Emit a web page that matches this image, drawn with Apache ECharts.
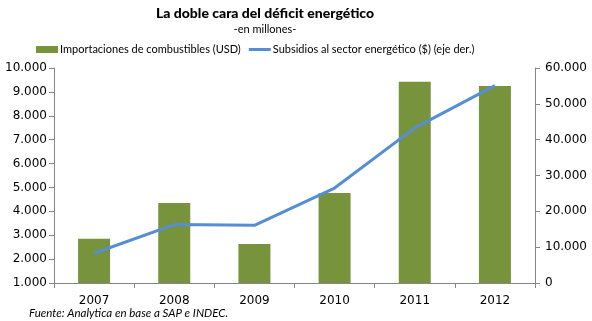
<!DOCTYPE html>
<html><head><meta charset="utf-8">
<script src="https://cdn.jsdelivr.net/npm/echarts@6/dist/echarts.min.js"></script>
<style>html,body{margin:0;padding:0;background:#fff}#c{width:592px;height:321px}</style>
</head><body><div id="c"></div>
<script>
var categories = ['2007','2008','2009','2010','2011','2012'];
var importaciones = [2850, 4350, 2630, 4770, 9420, 9250];
var subsidios = [8300, 16300, 16100, 26500, 43300, 55100];
var leftTicks = {min:1000, max:10000, interval:1000};
var rightTicks = {min:0, max:60000, interval:10000};

function fmt(v){ return String(v).replace(/\B(?=(\d{3})+(?!\d))/g,'.'); }
var chart = echarts.init(document.getElementById('c'));
var axisCol = '#868686';
var lf = 'Lato, "Open Sans", sans-serif';
var tf = '"DejaVu Sans", sans-serif';
chart.setOption({
  animation:false,
  title:[
    {text:'La doble cara del déficit energético', left:260, textAlign:'center', top:1,
     textStyle:{fontFamily:lf, fontWeight:900, fontSize:14, color:'#000'}},
    {text:'-en millones-', left:260, textAlign:'center', top:19,
     textStyle:{fontFamily:lf, fontWeight:'normal', fontSize:11, color:'#000'}}
  ],
  legend:{top:39, left:31, itemGap:8, itemWidth:22, itemHeight:7,
    textStyle:{fontFamily:lf, fontSize:11, color:'#000', padding:[0,0,0,-3]},
    data:[{name:'Importaciones de combustibles (USD)', icon:'rect'},
          {name:'Subsidios al sector energético ($) (eje der.)', icon:'path://M0,0 M0,2h22v3h-22z M22,7'}]},
  grid:{left:54, right:57, top:68, bottom:38},
  xAxis:{type:'category', data:categories,
    axisLine:{lineStyle:{color:axisCol}},
    axisTick:{show:true, alignWithLabel:false, length:5, lineStyle:{color:axisCol}},
    axisLabel:{color:'#000', fontFamily:tf, fontSize:12, margin:12}},
  yAxis:[
    {type:'value', min:leftTicks.min, max:leftTicks.max, interval:leftTicks.interval, position:'left',
     axisLine:{show:true, lineStyle:{color:axisCol}},
     axisTick:{show:true, length:5, lineStyle:{color:axisCol}},
     splitLine:{show:false},
     axisLabel:{color:'#000', fontFamily:tf, fontSize:12, margin:7, formatter:fmt}},
    {type:'value', min:rightTicks.min, max:rightTicks.max, interval:rightTicks.interval, position:'right',
     axisLine:{show:true, lineStyle:{color:axisCol}},
     axisTick:{show:true, length:5, lineStyle:{color:axisCol}},
     splitLine:{show:false},
     axisLabel:{color:'#000', fontFamily:tf, fontSize:12, margin:10, formatter:fmt}}
  ],
  series:[
    {name:'Importaciones de combustibles (USD)', type:'bar', yAxisIndex:0, data:importaciones,
     barWidth:32, itemStyle:{color:'#77933C'}},
    {name:'Subsidios al sector energético ($) (eje der.)', type:'line', yAxisIndex:1, data:subsidios,
     symbol:'none', lineStyle:{color:'#558ED5', width:3}, itemStyle:{color:'#558ED5'}}
  ],
  graphic:[{type:'text', left:29, top:307,
    style:{text:'Fuente: Analytica en base a SAP e INDEC.', fontFamily:lf, fontStyle:'italic', fontSize:11.5, fill:'#000'}}]
});
</script></body></html>
